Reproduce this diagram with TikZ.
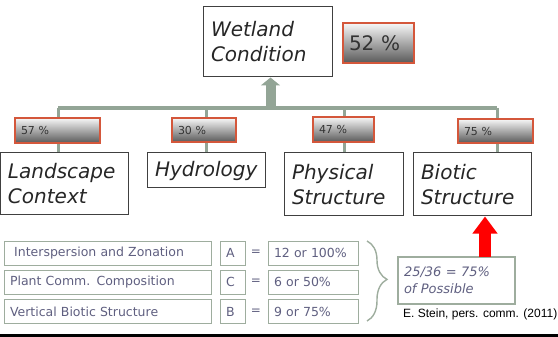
\documentclass[tikz,border=0pt]{standalone}
\usepackage{fontspec}
\setmainfont{DejaVu Sans}
\newfontfamily\citefont{Liberation Sans}
\usetikzlibrary{arrows.meta,decorations.pathreplacing}
\definecolor{bargreen}{HTML}{93A596}
\definecolor{tblgreen}{HTML}{9EAD9E}
\definecolor{tbltext}{HTML}{5F5F80}
\definecolor{pctred}{HTML}{D4573B}

\begin{document}
\begin{tikzpicture}[x=1pt,y=-1pt,
  catbox/.style={draw=black!75, line width=1pt, fill=white, align=left, inner xsep=8pt, text=black!85,
    font=\fontsize{20}{25}\selectfont\itshape},
  pctbox/.style={draw=pctred, line width=1.6pt, top color=black!3, bottom color=black!65, text=black!80,
    inner xsep=6pt, align=left, font=\fontsize{11}{13}\selectfont},
  tblbox/.style={draw=tblgreen, line width=1pt, text=tbltext, inner xsep=6pt, align=left,
    minimum height=24pt, font=\fontsize{12.5}{15}\selectfont},
  link/.style={draw=bargreen, line width=3pt}]
\useasboundingbox (0,0) rectangle (558,337);

% top node
\path (267.5,42) node (cond) [catbox, text width=113pt, minimum height=70pt] {Wetland\\Condition};
\path (378.5,43) node (p52) [pctbox, text width=59pt, minimum height=40pt, font=\fontsize{20}{24}\selectfont] {52 \%};

% four components
\path (64,184) node (land) [catbox, text width=112pt, minimum height=62pt] {Landscape\\Context};
\path (206,170.5) node (hydro) [catbox, text width=102pt, minimum height=35pt] {Hydrology};
\path (343.5,184.5) node (phys) [catbox, text width=103pt, minimum height=63pt] {Physical\\Structure};
\path (472,184.5) node (biot) [catbox, text width=102pt, minimum height=63pt] {Biotic\\Structure};

% tree links
\coordinate (b1) at (58,108);
\coordinate (b2) at (206,108);
\coordinate (b3) at (344,108);
\coordinate (b4) at (497,108);
\coordinate (up) at (270.5,108);
\draw [link, line width=4pt] (b1) -- (b4);
\draw [link] (b1) -- (b1 |- land.north);
\draw [link] (b2) -- (b2 |- hydro.north);
\draw [link] (b3) -- (b3 |- phys.north);
\draw [link] (b4) -- (b4 |- biot.north);
\draw [bargreen, line width=10pt, -{Triangle[width=19pt,length=8pt]}] (up) -- (up |- cond.south);

% percent bars
\path (57.5,130.5) node (p57) [pctbox, text width=73pt, minimum height=25pt] {57 \%};
\path (204,130) node (p30) [pctbox, text width=52pt, minimum height=24pt] {30 \%};
\path (343.5,129.5) node (p47) [pctbox, text width=49pt, minimum height=25pt] {47 \%};
\path (495.5,131) node (p75) [pctbox, text width=63pt, minimum height=24pt] {75 \%};

% metric table
\path (107.5,253) node (m1) [tblbox, text width=195pt] {\ Interspersion and Zonation};
\path (107.5,282) node (m2) [tblbox, text width=195pt] {Plant Comm. Composition};
\path (107.5,311.5) node (m3) [tblbox, text width=195pt] {Vertical Biotic Structure};
\path (232.5,253) node (s1) [tblbox, text width=13pt] {A};
\path (232.5,282) node (s2) [tblbox, text width=13pt] {C};
\path (232.5,311.5) node (s3) [tblbox, text width=13pt] {B};
\path (256,253) node (e1) [text=tbltext, font=\fontsize{12}{14}\selectfont] {=};
\path (256,282) node (e2) [text=tbltext, font=\fontsize{12}{14}\selectfont] {=};
\path (256,311.5) node (e3) [text=tbltext, font=\fontsize{12}{14}\selectfont] {=};
\path (313,253) node (v1) [tblbox, text width=78pt] {12 or 100\%};
\path (313,282) node (v2) [tblbox, text width=78pt] {6 or 50\%};
\path (313,311.5) node (v3) [tblbox, text width=78pt] {9 or 75\%};

\coordinate (bt) at (367,241);
\coordinate (bb) at (367,321);
\draw [tblgreen, line width=1.4pt, decorate, decoration={brace, amplitude=20pt, aspect=0.48}] (bt) -- (bb);

\path (456.5,280.5) node (res) [tblbox, line width=1.4pt, text width=105pt, minimum height=47pt,
  font=\fontsize{13}{17}\selectfont\itshape] {25/36 = 75\%\\of Possible};
\coordinate (rb) at (485,257);
\draw [red, line width=12pt, -{Triangle[width=24pt,length=17pt]}] (rb) -- (rb |- biot.south);

\path (403,317) node (cite) [anchor=base west, inner sep=0pt, font=\citefont\fontsize{12}{14}\selectfont] {E. Stein, pers. comm. (2011)};

\fill [black] (0,333.5) rectangle (558,337);
\end{tikzpicture}
\end{document}
